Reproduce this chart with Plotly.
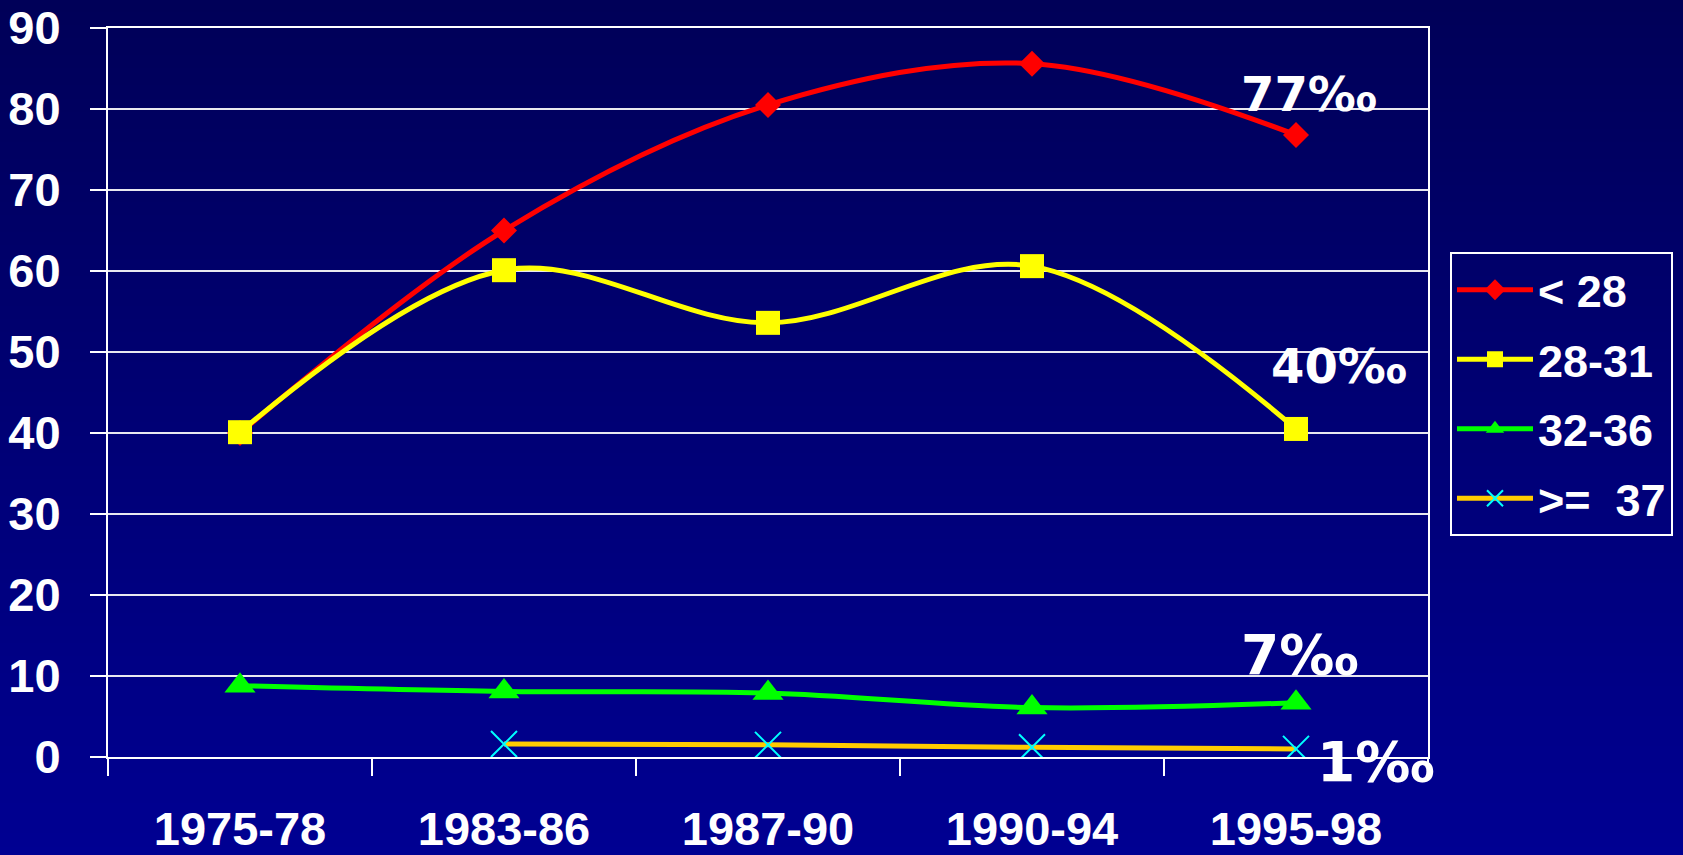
import base64
import struct
import zlib

import plotly.graph_objects as go

# ---------------- data ----------------
periods = ["1975-78", "1983-86", "1987-90", "1990-94", "1995-98"]
series_names = ["< 28", "28-31", "32-36", ">=  37"]
lt28 = [40, 65, 80.5, 85.6, 76.8]
w28_31 = [40.1, 60.1, 53.6, 60.6, 40.5]
w32_36 = [8.8, 8.1, 7.9, 6.1, 6.7]
ge37 = [None, 1.6, 1.5, 1.2, 1.0]
end_labels = ["77‰", "40‰", "7‰", "1‰"]
y_ticks = [0, 10, 20, 30, 40, 50, 60, 70, 80, 90]

# ---------------- geometry ----------------
W, H = 1683, 855
L, R, T, B = 108, 255, 28, 98
PW, PH = W - L - R, H - T - B


def gradient_png(h, top, bottom):
    raw = b""
    for i in range(h):
        t = i / (h - 1)
        c = bytes(round(top[k] + (bottom[k] - top[k]) * t) for k in range(3))
        raw += b"\x00" + c + c
    def chunk(tag, data):
        return (struct.pack(">I", len(data)) + tag + data
                + struct.pack(">I", zlib.crc32(tag + data) & 0xFFFFFFFF))
    png = (b"\x89PNG\r\n\x1a\n"
           + chunk(b"IHDR", struct.pack(">IIBBBBB", 2, h, 8, 2, 0, 0, 0))
           + chunk(b"IDAT", zlib.compress(raw))
           + chunk(b"IEND", b""))
    return "data:image/png;base64," + base64.b64encode(png).decode()


bg = gradient_png(256, (0, 0, 0x58), (0, 0, 0x92))

fig = go.Figure()

styles = [
    dict(color="#FF0000", symbol="diamond", size=20, mcolor="#FF0000", mline=0),
    dict(color="#FFFF00", symbol="square", size=24, mcolor="#FFFF00", mline=0),
    dict(color="#00FF00", symbol="triangle-up", size=27, mcolor="#00FF00", mline=0),
    dict(color="#FFCC00", symbol="x-thin", size=26, mcolor="#00FFFF", mline=2),
]
all_series = [lt28, w28_31, w32_36, ge37]

for i, (name, vals, st) in enumerate(zip(series_names, all_series, styles)):
    fig.add_trace(go.Scatter(
        x=periods, y=vals, name=name, mode="lines+markers",
        legendgroup=f"g{i}",
        line=dict(color=st["color"], width=5, shape="spline", smoothing=1.0),
        marker=dict(symbol=st["symbol"], size=st["size"], color=st["mcolor"],
                    line=dict(color=st["mcolor"], width=st["mline"])),
        connectgaps=False,
    ))

# end-of-line percentage labels, anchored on each series' last point
label_shift = [(-57, 41), (-27, 63), (-57, 48), (19, -13)]
label_size = [48, 48, 55, 55]
for vals, txt, (dx, dy), fs in zip(all_series, end_labels, label_shift, label_size):
    fig.add_annotation(
        x=periods[-1], y=vals[-1], xref="x", yref="y", text=txt,
        showarrow=False, xanchor="left", yanchor="middle",
        xshift=dx, yshift=dy,
        font=dict(family="DejaVu Sans", size=fs, color="white", weight="bold"),
    )

tickfont = dict(family="Liberation Sans", size=47, color="white", weight="bold")

fig.update_layout(
    width=W, height=H,
    margin=dict(l=L, r=R, t=T, b=B, pad=0, autoexpand=False),
    paper_bgcolor="#000075",
    plot_bgcolor="rgba(0,0,0,0)",
    showlegend=True,
    legend=dict(
        x=(1450 - L) / PW, y=(T + PH - 252) / PH, xanchor="left", yanchor="top",
        bgcolor="rgba(0,0,0,0)", bordercolor="white", borderwidth=2,
        font=dict(family="Liberation Sans", size=45, color="white", weight="bold"),
        itemwidth=76, tracegroupgap=8, traceorder="grouped",
    ),
    images=[dict(
        source=bg, xref="paper", yref="paper",
        x=-L / PW, y=1 + T / PH, sizex=W / PW, sizey=H / PH,
        xanchor="left", yanchor="top", sizing="stretch", layer="below",
    )],
    xaxis=dict(
        type="category", categoryorder="array", categoryarray=periods,
        range=[-0.5, len(periods) - 0.5], automargin=False,
        tickson="boundaries", ticks="outside", ticklen=17, tickwidth=2,
        tickcolor="white", showline=True, linecolor="white", linewidth=2,
        mirror=True, showgrid=False, tickfont=tickfont, ticklabelstandoff=30,
    ),
    yaxis=dict(
        range=[0, 90], tickvals=y_ticks, ticks="outside", ticklen=16,
        automargin=False,
        tickwidth=2, tickcolor="white", showline=True, linecolor="white",
        linewidth=2, mirror=True, showgrid=True, gridcolor="#E8E8F0",
        gridwidth=2, zeroline=False, tickfont=tickfont, ticklabelstandoff=20,
    ),
)

fig.write_html(
    "out.html",
    config={"displayModeBar": False},
    post_script="document.body.style.margin='0';"
                "document.body.style.overflow='hidden';"
                "document.body.style.background='#000075';",
)
